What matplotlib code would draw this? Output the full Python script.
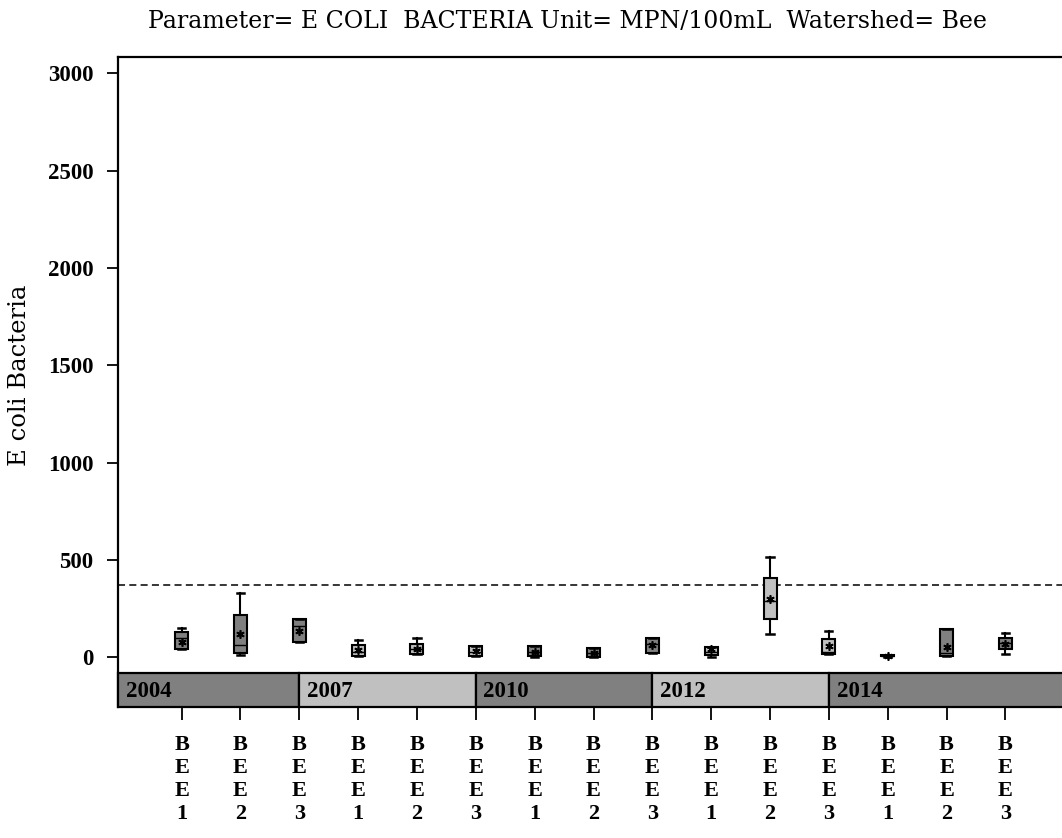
import matplotlib
matplotlib.use("Agg")
import matplotlib.pyplot as plt
from matplotlib.patches import Rectangle

# ---------------- data ----------------
sites = ["BEE1", "BEE2", "BEE3"] * 5
years = ["2004", "2007", "2010", "2012", "2014"]
whislo = [41, 12, 80, 7, 15, 7, 3, 3, 20, 3, 118, 15, 2, 7, 15]
q1 = [41, 24, 80, 7, 15, 7, 5, 3, 20, 12, 195, 15, 5, 7, 41]
med = [98, 63, 160, 30, 43, 30, 28, 22, 70, 30, 290, 29, 8, 20, 72]
q3 = [128, 219, 196, 63, 68, 58, 56, 46, 101, 51, 406, 92, 12, 144, 98]
whishi = [152, 332, 196, 89, 98, 58, 56, 46, 101, 51, 514, 135, 14, 144, 126]
means = [80, 120, 137, 38, 45, 32, 30, 24, 63, 41, 298, 58, 8, 51, 68]
standard = 370
yticks = [0, 500, 1000, 1500, 2000, 2500, 3000]

title = "Parameter= E COLI  BACTERIA Unit= MPN/100mL  Watershed= Bee"
ylabel = "E coli Bacteria"

# ---------------- styles ----------------
DARK = "#808080"
LIGHT = "#c0c0c0"
band_colors = [DARK, LIGHT, DARK, LIGHT, DARK]
SERIF = ["Liberation Serif", "DejaVu Serif"]
WIDE = ["DejaVu Serif"]

W, H = 1062, 838
fig = plt.figure(figsize=(W / 100, H / 100), dpi=100)
ax = fig.add_axes([118.3 / W, 1 - 707 / H, (1064.5 - 118.3) / W, (707 - 57.3) / H])

positions = list(range(1, len(sites) + 1))
xleft = 1 - (181.6 - 118.3) / 58.84
xright = 15 + (1064.5 - 1005.4) / 58.84
ybot, ytop = -255, 3082
ax.set_xlim(xleft, xright)
ax.set_ylim(ybot, ytop)

# reference line
ax.axhline(standard, color="black", lw=1.1, dashes=(4.6, 2.8), zorder=1)

# year bands
band_top = -80.6
edges = [xleft, 3, 6, 9, 12, xright]
for i, yr in enumerate(years):
    ax.add_patch(Rectangle((edges[i], ybot), edges[i + 1] - edges[i], band_top - ybot,
                           facecolor=band_colors[i], edgecolor="black", lw=1.6,
                           zorder=3, clip_on=False))
    ax.text(edges[i] + 0.13, (ybot + band_top) / 2 - 8, yr, ha="left", va="center",
            fontsize=16.5, fontweight="bold", family=SERIF, zorder=4)

# boxes
stats = []
for i in range(len(sites)):
    stats.append(dict(whislo=whislo[i], q1=q1[i], med=med[i], q3=q3[i],
                      whishi=whishi[i], mean=means[i], fliers=[]))
bp = ax.bxp(stats, positions=positions, widths=0.22, capwidths=0.12,
            patch_artist=True, showmeans=True, manage_ticks=False,
            boxprops=dict(edgecolor="black", linewidth=1.5),
            medianprops=dict(color="black", linewidth=1.0),
            whiskerprops=dict(color="black", linewidth=1.5),
            capprops=dict(color="black", linewidth=1.8),
            meanprops=dict(marker=(6, 2, 0), markeredgecolor="black",
                           markerfacecolor="black", markersize=6, markeredgewidth=1.2))
for i, patch in enumerate(bp["boxes"]):
    patch.set_facecolor(band_colors[i // 3])
    patch.set_zorder(2)

# axes styling
for s in ["right", "bottom"]:
    ax.spines[s].set_visible(False)
for s in ["left", "top"]:
    ax.spines[s].set_linewidth(1.6)

ax.set_yticks(yticks)
ax.set_yticklabels([str(v) for v in yticks], fontsize=16.5, fontweight="bold", family=SERIF)
ax.tick_params(axis="y", length=8, width=1.3, pad=10)

ax.set_xticks(positions)
ax.set_xticklabels(["\n".join(s) for s in sites], fontsize=16, fontweight="bold",
                   family=SERIF, linespacing=1.2)
ax.tick_params(axis="x", length=9, width=1.3, pad=11)

fig.text(567 / W, 1 - 21 / H, title, ha="center", va="center", fontsize=17,
         family=WIDE)
fig.text(20 / W, 1 - 375 / H, ylabel, ha="center", va="center", rotation=90,
         fontsize=17.5, family=WIDE)

fig.savefig("out.png", dpi=100)
